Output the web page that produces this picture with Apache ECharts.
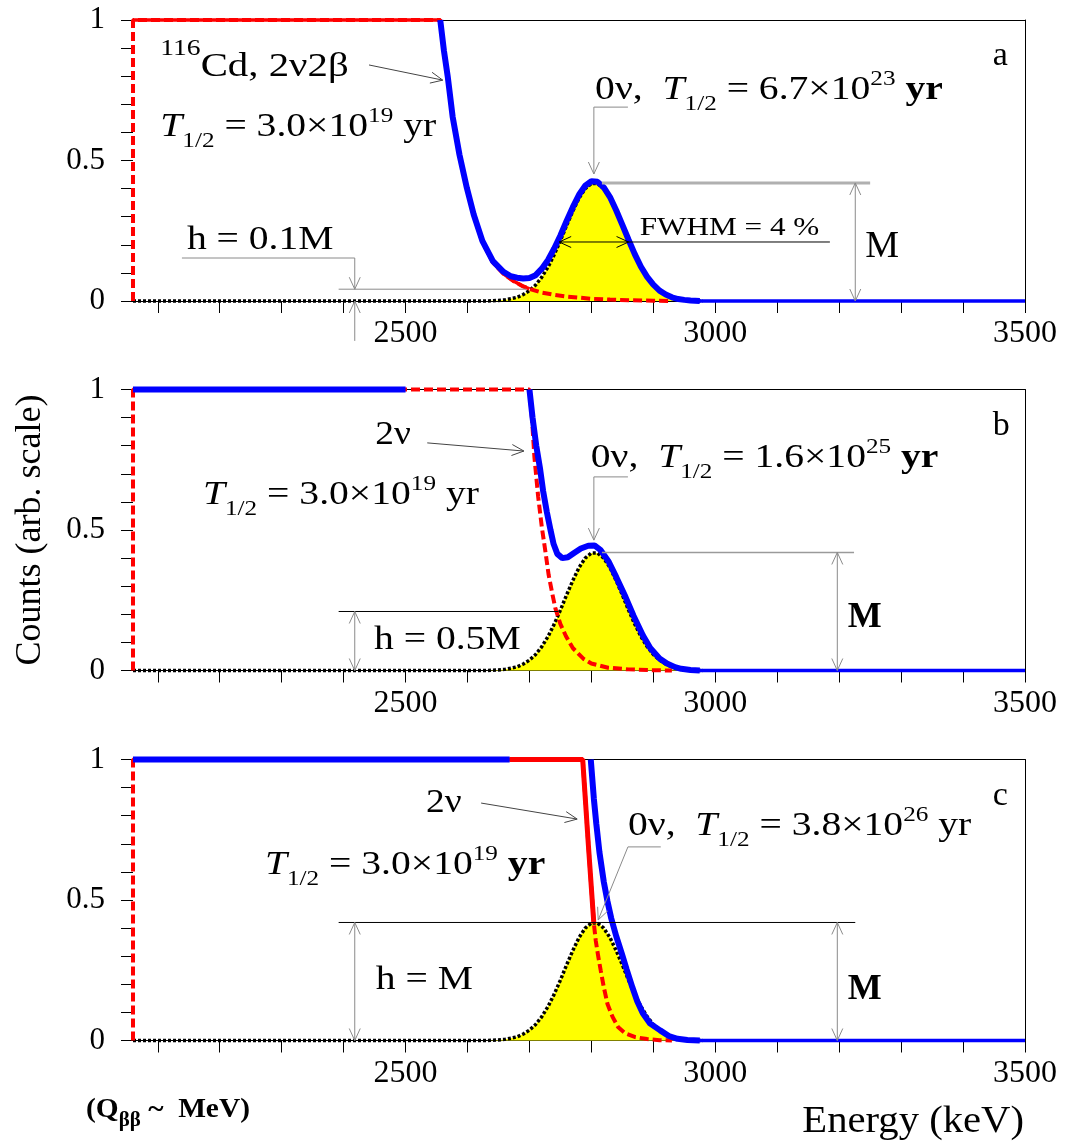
<!DOCTYPE html>
<html>
<head>
<meta charset="utf-8">
<script src="https://cdn.jsdelivr.net/npm/echarts@6/dist/echarts.min.js"></script>
<style>
html, body { margin: 0; padding: 0; background: #fff; }
#chart { width: 1068px; height: 1147px; }
</style>
</head>
<body>
<div id="chart"></div>
<script>
// 坐标轴刻度
var xTicks = [2100, 2200, 2300, 2400, 2500, 2600, 2700, 2800, 2900, 3000, 3100, 3200, 3300, 3400, 3500];
var xLabels = [2500, 3000, 3500];
var yLabels = [0, 0.5, 1];

// 0v peak (same shape in a, b, c), energy keV / counts
var peak0nu = [[2060, 0], [2630, 0], [2640, 0.001], [2650, 0.002], [2660, 0.004], [2670, 0.008], [2680, 0.013],
	[2690, 0.023], [2700, 0.037], [2710, 0.057], [2720, 0.085], [2730, 0.121], [2740, 0.165], [2750, 0.215],
	[2760, 0.269], [2770, 0.320], [2780, 0.366], [2790, 0.400], [2800, 0.418], [2810, 0.418], [2820, 0.400],
	[2830, 0.366], [2840, 0.320], [2850, 0.269], [2860, 0.215], [2870, 0.165], [2880, 0.121], [2890, 0.085],
	[2900, 0.057], [2910, 0.037], [2920, 0.023], [2930, 0.013], [2940, 0.008], [2950, 0.004], [2960, 0.002],
	[2970, 0.001], [2980, 0]];

// 2v2b spectra (red)
var twoNuA = [[2060, 0], [2060, 1], [2556, 1], [2562, 0.89], [2568, 0.80], [2576, 0.655], [2587, 0.52], [2599, 0.40],
	[2610, 0.305], [2624, 0.21], [2641, 0.137], [2658, 0.097], [2675, 0.07], [2690, 0.052], [2700, 0.043],
	[2720, 0.03], [2740, 0.022], [2760, 0.016], [2780, 0.012], [2800, 0.008], [2830, 0.005], [2860, 0.003],
	[2900, 0.001], [2930, 0]];
var twoNuB = [[2060, 0], [2060, 1], [2700, 1], [2704, 0.9], [2708, 0.76], [2714, 0.62], [2720, 0.51], [2726, 0.42],
	[2731, 0.34], [2737, 0.272], [2742, 0.22], [2750, 0.165], [2759, 0.122], [2770, 0.08], [2787, 0.042],
	[2800, 0.025], [2827, 0.01], [2860, 0.004], [2900, 0.001], [2930, 0]];
var twoNuC = [[2060, 0], [2060, 1], [2668, 1], [2786, 1], [2795, 0.7], [2804, 0.416], [2807, 0.356], [2811, 0.30],
	[2815, 0.25], [2820, 0.19], [2826, 0.13], [2834, 0.085], [2843, 0.048], [2855, 0.025], [2871, 0.012],
	[2890, 0.005], [2910, 0.001], [2930, 0]];
// energy range where the red line is solid
var twoNuSolid = [[2060, 2700], null, [2668, 2804]];

// sum spectra (blue)
var sumA = [[2556, 1], [2562, 0.89], [2568, 0.80], [2576, 0.656], [2587, 0.521], [2599, 0.402], [2610, 0.308],
	[2624, 0.214], [2641, 0.142], [2658, 0.104], [2670, 0.088], [2680, 0.083], [2690, 0.08], [2700, 0.082],
	[2710, 0.092], [2720, 0.115], [2730, 0.146], [2740, 0.187], [2750, 0.233], [2760, 0.285], [2770, 0.334],
	[2780, 0.378], [2790, 0.41], [2800, 0.426], [2810, 0.424], [2820, 0.404], [2830, 0.37], [2840, 0.323],
	[2850, 0.271], [2860, 0.218], [2870, 0.167], [2880, 0.122], [2890, 0.086], [2900, 0.058], [2910, 0.037],
	[2920, 0.023], [2930, 0.013], [2940, 0.007], [2950, 0.004], [2960, 0.002], [2975, 0]];
var sumB = [[2060, 1], [2500, 1], [2600, '-'], [2700, 1], [2705, 0.9], [2711, 0.8], [2717, 0.72], [2722, 0.64],
	[2728, 0.565], [2734, 0.5], [2739, 0.45], [2745, 0.415], [2753, 0.4], [2762, 0.403], [2772, 0.418],
	[2783, 0.434], [2795, 0.444], [2805, 0.445], [2815, 0.428], [2828, 0.387], [2840, 0.333], [2855, 0.262],
	[2868, 0.195], [2883, 0.125], [2895, 0.08], [2910, 0.043], [2922, 0.025], [2935, 0.012], [2945, 0.006],
	[2960, 0.002], [2975, 0]];
var sumC = [[2060, 1], [2668, 1], [2700, '-'], [2799, 1], [2804, 0.86], [2808, 0.77], [2813, 0.67], [2820, 0.565],
	[2826, 0.495], [2832, 0.435], [2840, 0.372], [2849, 0.31], [2857, 0.252], [2866, 0.19], [2874, 0.14],
	[2883, 0.097], [2895, 0.06], [2911, 0.036], [2925, 0.016], [2939, 0.006], [2955, 0.002], [2975, 0]];
var sumTail = [[2970, 0], [3500, 0]];

var twoNu = [twoNuA, twoNuB, twoNuC];
var sums = [sumA, sumB, sumC];
var peakM = 0.42;

var FAMILY = '"Liberation Serif", "Times New Roman", serif';
var gridTops = [20, 389.5, 759.5];

var chart = echarts.init(document.getElementById("chart"));

var grids = [], xAxes = [], yAxes = [], series = [];
gridTops.forEach(function (top, i) {
	grids.push({ left: 133, right: 43, top: top, height: 281 });
	xAxes.push({
		gridIndex: i, type: "value", min: 2060, max: 3500,
		axisLine: { onZero: false, lineStyle: { color: "#000", width: 1 } },
		axisTick: { customValues: xTicks, length: 12, lineStyle: { color: "#000" } },
		axisLabel: {
			customValues: xLabels, fontSize: 32, fontFamily: FAMILY, color: "#000", margin: 17,
			formatter: function (v) { return String(v); }
		},
		splitLine: { show: false }
	});
	yAxes.push({
		gridIndex: i, type: "value", min: 0, max: 1, interval: 0.1,
		axisLine: { show: false, onZero: false },
		axisTick: { length: 12, lineStyle: { color: "#000" } },
		axisLabel: { customValues: yLabels, fontSize: 31, fontFamily: FAMILY, color: "#000", margin: 28 },
		splitLine: { show: false }
	});
});
// frame: top and right borders
gridTops.forEach(function (top, i) {
	xAxes.push({
		gridIndex: i, type: "value", position: "top", min: 2060, max: 3500,
		axisLine: { onZero: false, lineStyle: { color: "#000", width: 1 } },
		axisTick: { show: false }, axisLabel: { show: false }, splitLine: { show: false }
	});
	yAxes.push({
		gridIndex: i, type: "value", position: "right", min: 0, max: 1,
		axisLine: { show: true, onZero: false, lineStyle: { color: "#000", width: 1 } },
		axisTick: { show: false }, axisLabel: { show: false }, splitLine: { show: false }
	});
});

gridTops.forEach(function (top, i) {
	var base = { type: "line", xAxisIndex: i, yAxisIndex: i, symbol: "none", silent: true, animation: false, clip: false };
	series.push(Object.assign({}, base, {
		data: peak0nu, z: 2,
		lineStyle: { color: "#000", width: 3.5, type: [3, 2] },
		areaStyle: { color: "#ffff00", opacity: 1 }
	}));
	series.push(Object.assign({}, base, {
		data: twoNu[i], z: 3,
		lineStyle: { color: "#ff0000", width: 4, type: [9, 4] }
	}));
	var range = twoNuSolid[i];
	var solid = range ? twoNu[i].filter(function (p) {
		return p[0] >= range[0] && p[0] <= range[1] && !(p[0] == 2060 && p[1] == 0);
	}) : [];
	series.push(Object.assign({}, base, {
		data: solid, z: 3,
		lineStyle: { color: "#ff0000", width: i == 2 ? 5 : 3.5 }
	}));
	series.push(Object.assign({}, base, {
		data: sums[i], z: 4,
		lineStyle: { color: "#0000ff", width: 6 }
	}));
	series.push(Object.assign({}, base, {
		data: sumTail, z: 4,
		lineStyle: { color: "#0000ff", width: 3.5 }
	}));
});

chart.setOption({
	animation: false,
	grid: grids,
	xAxis: xAxes,
	yAxis: yAxes,
	series: series
});

// ---- annotations ----
var G = [];
var ctx = document.createElement("canvas").getContext("2d");

function P(gi, e, v) {
	return chart.convertToPixel({ xAxisIndex: gi, yAxisIndex: gi }, [e, v]);
}
function fontOf(p, size) {
	return (p.i ? "italic " : "") + (p.b ? "bold " : "") + Math.round(size * (p.s || 1)) + "px " + FAMILY;
}
function textRow(x, base, parts, size, align, sx) {
	sx = sx || 1;
	var widths = parts.map(function (p) {
		ctx.font = fontOf(p, size);
		return ctx.measureText(p.t).width * sx;
	});
	var total = widths.reduce(function (a, b) { return a + b; }, 0);
	if (align == "right") {
		x -= total;
	}
	parts.forEach(function (p, k) {
		var fs = size * (p.s || 1);
		G.push({
			type: "text", x: x, y: base + (p.dy || 0) * size - 0.3 * fs, scaleX: sx, silent: true, z: 20,
			style: {
				text: p.t, font: fontOf(p, size), fill: "#000",
				align: "left", verticalAlign: "middle", textAlign: "left", textVerticalAlign: "middle"
			}
		});
		x += widths[k];
	});
}
function label(gi, e, v, parts, size, sx) {
	var pt = P(gi, e, v);
	textRow(pt[0], pt[1], parts, size, "left", sx);
}
function line(pts, color, width) {
	G.push({
		type: "polyline", silent: true, z: 15,
		shape: { points: pts },
		style: { stroke: color, lineWidth: width || 1, fill: null }
	});
}
function head(tip, from, color) {
	var dx = tip[0] - from[0], dy = tip[1] - from[1];
	var len = Math.sqrt(dx * dx + dy * dy);
	var ux = dx / len, uy = dy / len, s = 12, w = 5.5;
	line([[tip[0] - ux * s - uy * w, tip[1] - uy * s + ux * w], tip,
		[tip[0] - ux * s + uy * w, tip[1] - uy * s - ux * w]], color, 1);
}
function dataLine(gi, pts, color, width) {
	line(pts.map(function (p) { return P(gi, p[0], p[1]); }), color, width);
}
function arrow(gi, pts, color) {
	var px = pts.map(function (p) { return P(gi, p[0], p[1]); });
	line(px, color, 1);
	head(px[px.length - 1], px[px.length - 2], color);
}
function dblArrow(gi, a, b, color) {
	var pa = P(gi, a[0], a[1]), pb = P(gi, b[0], b[1]);
	line([pa, pb], color, 1);
	head(pa, pb, color);
	head(pb, pa, color);
}
function halfLife(mant, exp, boldYr) {
	return [{ t: "T", i: 1 }, { t: "1/2", s: 0.65, dy: 0.32 }, { t: " = " + mant + "×10" },
		{ t: exp, s: 0.65, dy: -0.42 }, { t: " yr", b: boldYr }];
}
function zeroNu(mant, exp, boldYr) {
	return [{ t: "0ν,  " }].concat(halfLife(mant, exp, boldYr));
}

var GREY = "#8a8a8a", DARK = "#444", WIDE = 1.2;

// a
label(0, 2104, 0.797, [{ t: "116", s: 0.68, dy: -0.62 }, { t: "Cd, 2ν2β" }], 34, WIDE);
arrow(0, [[2441, 0.84], [2560, 0.786]], DARK);
label(0, 2104, 0.584, halfLife("3.0", "19", false), 33, WIDE);
label(0, 2806, 0.715, zeroNu("6.7", "23", true), 33, WIDE);
label(0, 3448, 0.836, [{ t: "a" }], 34);
arrow(0, [[2859, 0.69], [2804, 0.69], [2804, 0.452]], GREY);
dataLine(0, [[2817, peakM], [3250, peakM]], "#b0b0b0", 3);
dblArrow(0, [3226, peakM], [3226, 0], GREY);
label(0, 3242, 0.153, [{ t: "M" }], 38);
dataLine(0, [[2748, 0.21], [3185, 0.21]], "#000", 1);
head(P(0, 2748, 0.21), P(0, 2770, 0.21), "#000");
head(P(0, 2860, 0.21), P(0, 2838, 0.21), "#000");
label(0, 2878, 0.231, [{ t: "FWHM = 4 %" }], 26, WIDE);
label(0, 2147, 0.181, [{ t: "h = 0.1M" }], 33, WIDE);
arrow(0, [[2139, 0.153], [2418, 0.153], [2418, 0.042]], GREY);
dataLine(0, [[2392, 0.042], [2695, 0.042]], GREY, 1);
arrow(0, [[2418, -0.142], [2418, 0]], GREY);

// b
label(1, 2451, 0.8025, [{ t: "2ν" }], 34, 1.1);
arrow(1, [[2535, 0.81], [2691, 0.781]], DARK);
label(1, 2173, 0.589, halfLife("3.0", "19", false), 33, WIDE);
label(1, 2799, 0.721, zeroNu("1.6", "25", true), 33, WIDE);
label(1, 3448, 0.835, [{ t: "b" }], 34);
arrow(1, [[2859, 0.689], [2804, 0.689], [2804, 0.464]], GREY);
dataLine(1, [[2817, peakM], [3224, peakM]], "#9a9a9a", 1.5);
dblArrow(1, [3197, peakM], [3197, 0], GREY);
label(1, 3214, 0.151, [{ t: "M", b: 1 }], 36);
dataLine(1, [[2392, peakM / 2], [2746, peakM / 2]], "#000", 1);
dblArrow(1, [2418, peakM / 2], [2418, 0], GREY);
label(1, 2449, 0.073, [{ t: "h = 0.5M" }], 33, WIDE);

// c
label(2, 2533, 0.81, [{ t: "2ν" }], 34, 1.1);
arrow(2, [[2622, 0.845], [2777, 0.788]], DARK);
label(2, 2273, 0.589, halfLife("3.0", "19", true), 33, WIDE);
label(2, 2859, 0.728, zeroNu("3.8", "26", false), 33, WIDE);
label(2, 3448, 0.835, [{ t: "c" }], 34);
arrow(2, [[2912, 0.689], [2859, 0.689], [2811, 0.429]], GREY);
dataLine(2, [[2392, peakM], [3226, peakM]], "#000", 1);
dblArrow(2, [2418, peakM], [2418, 0], GREY);
label(2, 2452, 0.18, [{ t: "h = M" }], 33, WIDE);
dblArrow(2, [3197, peakM], [3197, 0], GREY);
label(2, 3214, 0.144, [{ t: "M", b: 1 }], 36);

// axis titles
textRow(86, 1118, [{ t: "(Q", b: 1 }, { t: "ββ", b: 1, s: 0.72, dy: 0.3 }, { t: " ~  MeV)", b: 1 }], 28, "left", 1.05);
textRow(1024, 1133, [{ t: "Energy (keV)" }], 38, "right", 1.07);
G.push({
	type: "text", x: 31, y: 530, rotation: Math.PI / 2, silent: true, z: 20,
	style: {
		text: "Counts (arb. scale)", font: "36px " + FAMILY, fill: "#000",
		align: "center", verticalAlign: "middle", textAlign: "center", textVerticalAlign: "middle"
	}
});

chart.setOption({ graphic: { elements: G } });
</script>
</body>
</html>
